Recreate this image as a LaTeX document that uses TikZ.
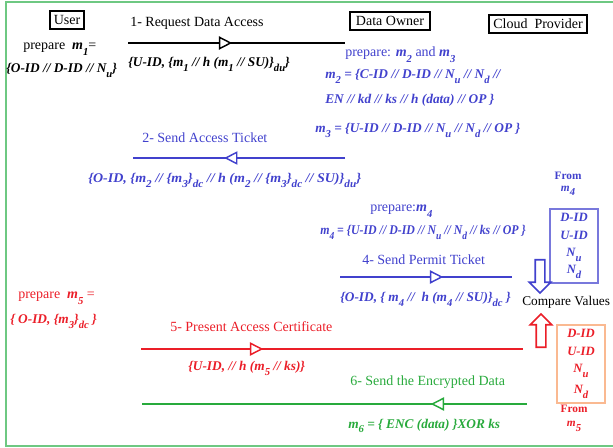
\documentclass[tikz,border=0pt]{standalone}
\usepackage{fontspec}
\setmainfont{Liberation Serif}
\usetikzlibrary{arrows.meta,decorations.markings,shapes.arrows}

\definecolor{ownblue}{RGB}{65,65,205}
\definecolor{certred}{RGB}{235,30,40}
\definecolor{datagreen}{RGB}{40,170,60}
\definecolor{framegreen}{RGB}{110,200,130}
\definecolor{boxorange}{RGB}{250,185,145}
\definecolor{boxblue}{RGB}{120,120,220}

\newcommand{\lowsub}[1]{\raisebox{-0.8ex}{\footnotesize #1}}
\newcommand{\bfit}[1]{{\bfseries\itshape #1}}

\tikzset{
  actor/.style={draw, line width=1.5pt, inner sep=2pt, minimum height=14pt,
    font=\fontsize{10.5}{12}\selectfont},
  lbl/.style={font=\fontsize{10.5}{12}\selectfont, inner sep=0pt, anchor=base west},
  msg/.style={font=\fontsize{10}{12}\selectfont\bfseries\itshape, inner sep=0pt, anchor=base west},
  valbox/.style={draw, line width=0.8pt, minimum width=36pt, align=center,
    font=\fontsize{9.5}{13}\selectfont\bfseries\itshape},
  midtip/.style={postaction={decorate}, decoration={markings,
    mark=at position #1 with {\arrow{Triangle[fill=white,length=10pt,width=10pt,line width=1.1pt]}}}},
  bigarrow/.style={single arrow, draw, line width=1.2pt, inner sep=3pt,
    minimum height=25pt, single arrow head extend=4.5pt},
}

\begin{document}
\begin{tikzpicture}[x=0.75pt,y=-0.75pt]
    \useasboundingbox (0,0) rectangle (613,448);

    % frame
    \draw[framegreen,line width=1.5pt] (613,2) -- (6,2) -- (6,446) -- (613,446);

    % parties
    \node[actor,minimum width=25pt] (user) at (67,20) {User};
    \node[actor,minimum width=60pt] (owner) at (390,21) {Data Owner};
    \node[actor,minimum width=73pt] (cloud) at (538,24) {Cloud\ \ Provider};

    % 1- request
    \coordinate (U1) at (128,43);
    \coordinate (O1) at (345,43);
    \draw[line width=1.8pt,midtip=0.48] (U1) -- (O1);
    \node[lbl] (t1) at (130,27) {1- Request Data Access};
    \node[lbl] (p1) at (23,50) {prepare\ \ \bfit{m\lowsub{1}}=};
    \node[msg] (v1) at (6,73) {\{O-ID // D-ID // N\lowsub{u}\}};
    \node[msg] (m1) at (128,67) {\{U-ID, \{m\lowsub{1} // h (m\lowsub{1} // SU)\}\lowsub{du}\}};

    % owner prepares m2 and m3
    \begin{scope}[ownblue]
    \node[lbl] (p2) at (345,57) {prepare: \bfit{m\lowsub{2}} and \bfit{m\lowsub{3}}};
    \node[msg] (v2a) at (325,79) {m\lowsub{2} = \{C-ID // D-ID // N\lowsub{u} // N\lowsub{d} //};
    \node[msg] (v2b) at (325,104) {EN // kd // ks // h (data) // OP \}};
    \node[msg] (v3) at (315,133) {m\lowsub{3} = \{U-ID // D-ID // N\lowsub{u} // N\lowsub{d} // OP \}};

    % 2- access ticket
    \coordinate (O2) at (345,158);
    \coordinate (U2) at (133,158);
    \draw[line width=1.5pt,midtip=0.57] (O2) -- (U2);
    \node[lbl] (t2) at (142,143) {2- Send Access Ticket};
    \node[msg] (m2) at (88,183) {\scalebox{1.05}[1]{\{O-ID, \{m\lowsub{2} // \{m\lowsub{3}\}\lowsub{dc} // h (m\lowsub{2} // \{m\lowsub{3}\}\lowsub{dc} // SU)\}\lowsub{du}\}}};

    % owner prepares m4
    \node[lbl] (p4) at (370,212) {prepare:\bfit{m\lowsub{4}}};
    \node[msg] (v4) at (320,235) {\scalebox{0.89}[1]{m\lowsub{4} = \{U-ID // D-ID // N\lowsub{u} // N\lowsub{d} // ks // OP \}}};

    % 4- permit ticket
    \coordinate (O4) at (340,277);
    \coordinate (C4) at (512,277);
    \draw[line width=1.5pt,midtip=0.6] (O4) -- (C4);
    \node[lbl] (t4) at (362,265) {4- Send Permit Ticket};
    \node[msg] (m4) at (340,302) {\{O-ID, \{ m\lowsub{4} //\ \ h (m\lowsub{4} // SU)\}\lowsub{dc} \}};

    % values from m4
    \node[font=\fontsize{8.5}{10}\selectfont\bfseries, align=center] (f4) at (568,184) {From\\[-1pt]\bfit{m\lowsub{4}}};
    \node[valbox,draw=boxblue,minimum height=54pt] (b4) at (574,246) {D-ID\\U-ID\\N\lowsub{u}\\N\lowsub{d}};
    \node[bigarrow,draw=ownblue,shape border rotate=270] (dn) at (540,274) {};
    \end{scope}

    % compare
    \node[lbl,font=\fontsize{10}{12}\selectfont] (cmp) at (522,306) {Compare Values};

    % user prepares m5
    \begin{scope}[certred]
    \node[lbl] (p5) at (18,299) {prepare\ \ \bfit{m\lowsub{5}} =};
    \node[msg] (v5) at (10,324) {\{ O-ID, \{m\lowsub{3}\}\lowsub{dc} \}};

    % 5- access certificate
    \coordinate (U5) at (141,349);
    \coordinate (C5) at (523,349);
    \draw[line width=1.5pt,midtip=0.32] (U5) -- (C5);
    \node[lbl] (t5) at (170,332) {5- Present Access Certificate};
    \node[msg] (m5) at (188,371) {\{U-ID, // h (m\lowsub{5} // ks)\}};

    % values from m5
    \node[bigarrow,draw=certred,shape border rotate=90] (up) at (541,333) {};
    \node[valbox,draw=boxorange,minimum height=56pt] (b5) at (581,364) {D-ID\\U-ID\\N\lowsub{u}\\[3pt]N\lowsub{d}};
    \node[font=\fontsize{8.5}{10}\selectfont\bfseries, align=center] (f5) at (574,418) {From\\[1pt]\bfit{m\lowsub{5}}};
    \end{scope}

    % 6- encrypted data
    \begin{scope}[datagreen]
    \coordinate (C6) at (527,404);
    \coordinate (U6) at (142,404);
    \draw[line width=1.8pt,midtip=0.25] (C6) -- (U6);
    \node[lbl] (t6) at (350,385) {6- Send the Encrypted Data};
    \node[msg] (m6) at (348,428) {m\lowsub{6} = \{ ENC (data) \}XOR ks};
    \end{scope}
\end{tikzpicture}
\end{document}
